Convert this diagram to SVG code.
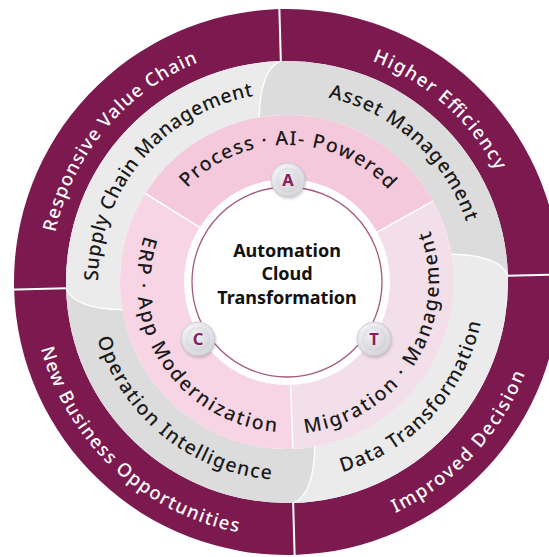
<svg xmlns="http://www.w3.org/2000/svg" width="549" height="557" viewBox="0 0 549 557">
<style>
.maroon{fill:#7c1a50}
.lg{fill:#ebebeb}
.dg{fill:#dcdcdc}
.wt{font-family:"Noto Sans","Liberation Sans",sans-serif;font-size:18.5px;font-weight:500;fill:#ffffff}
.bt{font-family:"Noto Sans","Liberation Sans",sans-serif;font-size:19.5px;font-weight:500;fill:#1a1a1a}
.ct{font-family:"Noto Sans","Liberation Sans",sans-serif;font-size:18px;font-weight:700;fill:#111111;text-anchor:middle}
.bl{font-family:"Noto Sans","Liberation Sans",sans-serif;font-size:16.5px;font-weight:700;fill:#8a1c5c;text-anchor:middle}
.div{stroke:#ffffff;stroke-width:2;fill:none}
.cv{stroke:#ffffff;stroke-width:1.5;fill:none;opacity:0.9}
.guide{fill:none}
</style>
<defs>
<radialGradient id="rim" cx="40%" cy="35%" r="70%"><stop offset="0" stop-color="#ffffff"/><stop offset="1" stop-color="#d2d2d8"/></radialGradient>
<radialGradient id="core" cx="40%" cy="35%" r="75%"><stop offset="0" stop-color="#f2f2f5"/><stop offset="1" stop-color="#cfcfd6"/></radialGradient>
<filter id="sh" x="-40%" y="-40%" width="180%" height="180%"><feGaussianBlur stdDeviation="1.5"/></filter>
<path id="p1" class="guide" d="M105.45,434.34 A237,237 0 0 1 405.5,76.75"/>
<path id="p2" class="guide" d="M139.47,96.52 A237,237 0 0 1 489.08,405.83"/>
<path id="p3" class="guide" d="M148.12,495.86 A255,255 0 0 0 490.65,128.54"/>
<path id="p4" class="guide" d="M73.14,143.12 A255,255 0 0 0 440.46,485.65"/>
<path id="p5" class="guide" d="M142.22,403.49 A189,189 0 0 1 381.5,118.32"/>
<path id="p6" class="guide" d="M170.64,133.07 A189,189 0 0 1 447.28,382.15"/>
<path id="p7" class="guide" d="M179.74,448.43 A198,198 0 0 0 444.71,162.29"/>
<path id="p8" class="guide" d="M113.83,186.01 A198,198 0 0 0 416.9,431.43"/>
<path id="p9" class="guide" d="M152.29,257.03 A137,137 0 0 1 422.12,259.39"/>
<path id="p10" class="guide" d="M182.8,174.1 A150,150 0 0 0 348.01,419.03"/>
<path id="p11" class="guide" d="M230.8,423.23 A152,152 0 0 0 388.12,168.51"/>
</defs>
<rect width="549" height="557" fill="#ffffff"/>

<g id="outer-responsive-value-chain">
<path class="maroon" d="M14.11,289.62 A273,273 0 0 1 279.38,9.11 L280.83,61.09 A221,221 0 0 0 66.09,288.17 Z"/>
<text class="wt"><textPath href="#p1" startOffset="50%" text-anchor="middle" textLength="231" lengthAdjust="spacing">Responsive Value Chain</textPath></text>
</g>
<g id="outer-higher-efficiency">
<path class="maroon" d="M279.38,9.11 A273,273 0 0 1 559.89,274.38 L507.91,275.83 A221,221 0 0 0 280.83,61.09 Z"/>
<text class="wt"><textPath href="#p2" startOffset="50%" text-anchor="middle" textLength="169" lengthAdjust="spacing">Higher Efficiency</textPath></text>
</g>
<g id="outer-improved-decision">
<path class="maroon" d="M559.89,274.38 A273,273 0 0 1 294.62,554.89 L293.17,502.91 A221,221 0 0 0 507.91,275.83 Z"/>
<text class="wt"><textPath href="#p3" startOffset="50%" text-anchor="middle" textLength="195" lengthAdjust="spacing">Improved Decision</textPath></text>
</g>
<g id="outer-new-business-opportunities">
<path class="maroon" d="M294.62,554.89 A273,273 0 0 1 14.11,289.62 L66.09,288.17 A221,221 0 0 0 293.17,502.91 Z"/>
<text class="wt"><textPath href="#p4" startOffset="50%" text-anchor="middle" textLength="284" lengthAdjust="spacing">New Business Opportunities</textPath></text>
</g>

<g id="mid-supply-chain-management">
<path class="lg" d="M122.34,309.85 Q73.65,308.57 66.09,288.17 A221,221 0 0 1 280.83,61.09 Q260.43,68.65 259.15,117.34 A167,167 0 0 0 122.34,309.85 Z"/>
<text class="bt"><textPath href="#p5" startOffset="50%" text-anchor="middle" textLength="262" lengthAdjust="spacing">Supply Chain Management</textPath></text>
</g>
<g id="mid-asset-management">
<path class="dg" d="M259.15,117.34 Q260.43,68.65 280.83,61.09 A221,221 0 0 1 507.91,275.83 Q500.35,255.43 451.66,254.15 A167,167 0 0 0 259.15,117.34 Z"/>
<text class="bt"><textPath href="#p6" startOffset="50%" text-anchor="middle" textLength="194" lengthAdjust="spacing">Asset Management</textPath></text>
</g>
<g id="mid-data-transformation">
<path class="lg" d="M451.66,254.15 Q500.35,255.43 507.91,275.83 A221,221 0 0 1 293.17,502.91 Q313.57,495.35 314.85,446.66 A167,167 0 0 0 451.66,254.15 Z"/>
<text class="bt"><textPath href="#p7" startOffset="50%" text-anchor="middle" textLength="214" lengthAdjust="spacing">Data Transformation</textPath></text>
</g>
<g id="mid-operation-intelligence">
<path class="dg" d="M314.85,446.66 Q313.57,495.35 293.17,502.91 A221,221 0 0 1 66.09,288.17 Q73.65,308.57 122.34,309.85 A167,167 0 0 0 314.85,446.66 Z"/>
<text class="bt"><textPath href="#p8" startOffset="50%" text-anchor="middle" textLength="238" lengthAdjust="spacing">Operation Intelligence</textPath></text>
</g>

<g id="inner-process-ai-powered">
<path fill="#f4c9dc" d="M287,282 L145.38,193.5 A167,167 0 0 1 433.06,201.04 Z"/>
</g>
<g id="inner-migration-management">
<path fill="#f3dfea" d="M287,282 L433.06,201.04 A167,167 0 0 1 292.83,448.9 Z"/>
</g>
<g id="inner-erp-app-modernization">
<path fill="#f7d5e4" d="M287,282 L292.83,448.9 A167,167 0 0 1 145.38,193.5 Z"/>
</g>

<g id="dividers">
<line class="div" x1="279.38" y1="9.11" x2="280.83" y2="61.09"/>
<line class="div" x1="566.89" y1="274.18" x2="507.91" y2="275.83"/>
<line class="div" x1="294.82" y1="561.89" x2="293.17" y2="502.91"/>
<line class="div" x1="7.11" y1="289.82" x2="66.09" y2="288.17"/>
<path class="cv" d="M259.15,117.34 Q260.43,68.65 280.83,61.09"/>
<path class="cv" d="M451.66,254.15 Q500.35,255.43 507.91,275.83"/>
<path class="cv" d="M314.85,446.66 Q313.57,495.35 293.17,502.91"/>
<path class="cv" d="M122.34,309.85 Q73.65,308.57 66.09,288.17"/>
<line stroke="#ffffff" stroke-width="1.5" x1="145.38" y1="193.5" x2="199.65" y2="227.42"/>
<line stroke="#ffffff" stroke-width="1.5" x1="433.06" y1="201.04" x2="377.09" y2="232.06"/>
<line stroke="#ffffff" stroke-width="1.5" x1="292.83" y1="448.9" x2="290.59" y2="384.94"/>
</g>

<g id="inner-labels">
<text class="bt"><textPath href="#p9" startOffset="50%" text-anchor="middle" textLength="226" lengthAdjust="spacing">Process · AI- Powered</textPath></text>
<text class="bt"><textPath href="#p10" startOffset="50%" text-anchor="middle" textLength="272" lengthAdjust="spacing">ERP · App Modernization</textPath></text>
<text class="bt"><textPath href="#p11" startOffset="50%" text-anchor="middle" textLength="273" lengthAdjust="spacing">Migration · Management</textPath></text>
</g>

<g id="core">
<circle cx="287" cy="282" r="103" fill="#ffffff"/>
<circle cx="287" cy="282" r="95" fill="none" stroke="#a3587f" stroke-width="1.3"/>
<text class="ct" x="287" y="256.5">Automation</text>
<text class="ct" x="287" y="280">Cloud</text>
<text class="ct" x="287" y="303.5">Transformation</text>
</g>

<g id="badge-a">
<circle cx="289" cy="182" r="17" fill="#000000" opacity="0.18" filter="url(#sh)"/>
<circle cx="288" cy="180" r="17" fill="url(#rim)" stroke="#c6c6cd" stroke-width="0.8"/>
<circle cx="288" cy="180" r="12.5" fill="url(#core)"/>
<text class="bl" x="288" y="186">A</text>
</g>
<g id="badge-c">
<circle cx="199" cy="341" r="17" fill="#000000" opacity="0.18" filter="url(#sh)"/>
<circle cx="198" cy="339" r="17" fill="url(#rim)" stroke="#c6c6cd" stroke-width="0.8"/>
<circle cx="198" cy="339" r="12.5" fill="url(#core)"/>
<text class="bl" x="198" y="345">C</text>
</g>
<g id="badge-t">
<circle cx="375" cy="341" r="17" fill="#000000" opacity="0.18" filter="url(#sh)"/>
<circle cx="374" cy="339" r="17" fill="url(#rim)" stroke="#c6c6cd" stroke-width="0.8"/>
<circle cx="374" cy="339" r="12.5" fill="url(#core)"/>
<text class="bl" x="374" y="345">T</text>
</g>

<g id="connectors"></g>
</svg>
